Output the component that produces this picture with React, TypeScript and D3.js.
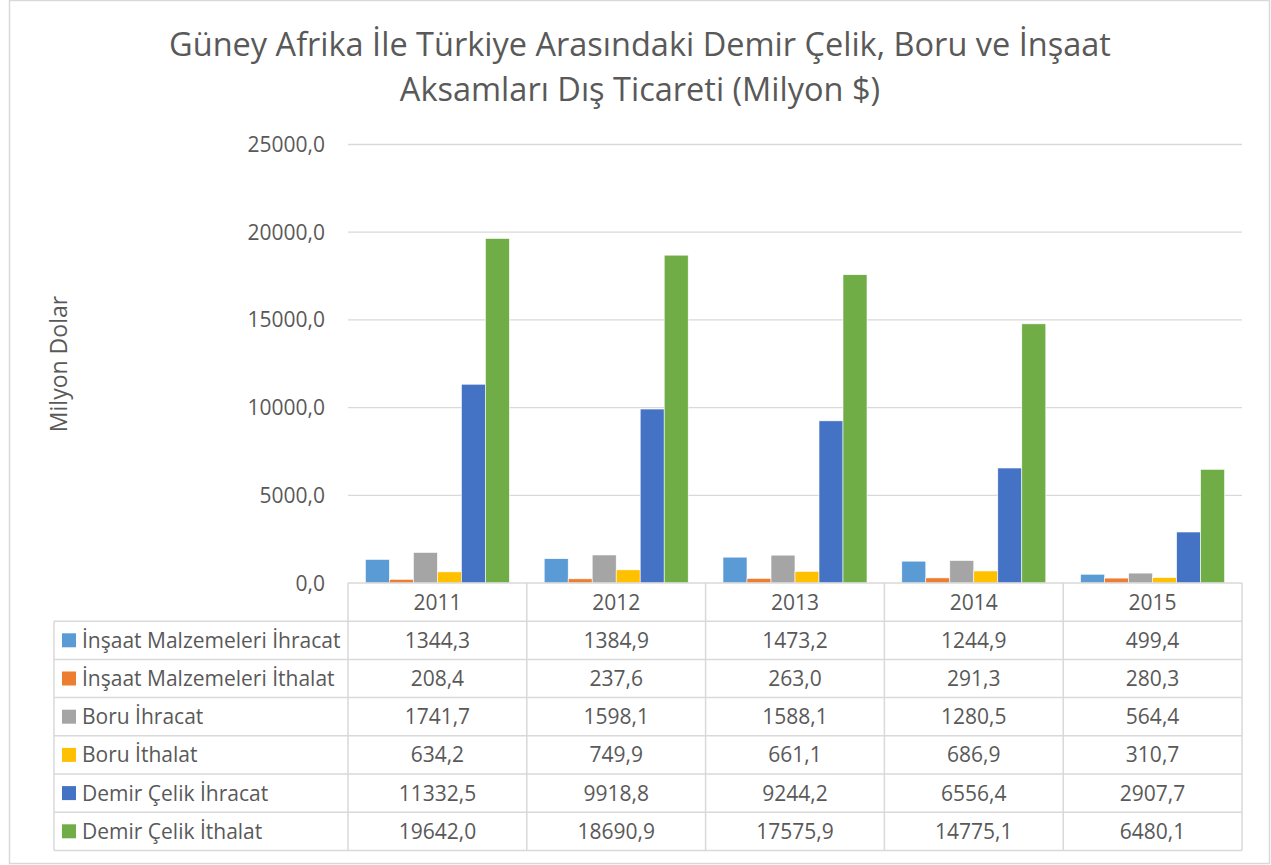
import React from "react";
import * as d3 from "d3";

const years = ["2011", "2012", "2013", "2014", "2015"];
const seriesNames = [
  "İnşaat Malzemeleri İhracat",
  "İnşaat Malzemeleri İthalat",
  "Boru İhracat",
  "Boru İthalat",
  "Demir Çelik İhracat",
  "Demir Çelik İthalat",
];
const insaatIhracat = [1344.3, 1384.9, 1473.2, 1244.9, 499.4];
const insaatIthalat = [208.4, 237.6, 263.0, 291.3, 280.3];
const boruIhracat = [1741.7, 1598.1, 1588.1, 1280.5, 564.4];
const boruIthalat = [634.2, 749.9, 661.1, 686.9, 310.7];
const demirIhracat = [11332.5, 9918.8, 9244.2, 6556.4, 2907.7];
const demirIthalat = [19642.0, 18690.9, 17575.9, 14775.1, 6480.1];
const seriesValues = [insaatIhracat, insaatIthalat, boruIhracat, boruIthalat, demirIhracat, demirIthalat];
const colors = ["#5B9BD5", "#ED7D31", "#A5A5A5", "#FFC000", "#4472C4", "#70AD47"];
const yTicks = [0, 5000, 10000, 15000, 20000, 25000];

const fmt = (v: number) => v.toFixed(1).replace(".", ",");
const FONT = "'Open Sans', sans-serif";
const TXT = "#595959";
const GRID = "#d9d9d9";
const FS = 21;

export default function App() {
  const W = 1271, H = 865;
  const plotL = 348, plotR = 1242, plotT = 144.5, plotB = 583;
  const x = d3.scaleBand<string>().domain(years).range([plotL, plotR]).paddingInner(0).paddingOuter(0);
  const y = d3.scaleLinear().domain([0, 25000]).range([plotB, plotT]);
  const cw = x.bandwidth();
  const barW = cw / (6 + 1.45);
  const gap = (cw - 6 * barW) / 2;
  const xs = d3.scaleBand<number>().domain(d3.range(6)).range([gap, cw - gap]).padding(0);

  const tableL = 54;
  const rowH = 38.2;
  const headerTop = plotB;
  const rowsTop = headerTop + rowH;
  const tableBottom = rowsTop + 6 * rowH;
  const dy = FS * 0.36;

  return (
    <svg width={W} height={H} style={{ display: "block", position: "absolute", left: 0, top: 0 }}>
      <rect x={9.5} y={0.5} width={1260} height={863} fill="#fff" stroke={GRID} strokeWidth={1.5} />
      <text x={640} y={56} textAnchor="middle" fontFamily={FONT} fontSize={32.5} fill={TXT}>
        Güney Afrika İle Türkiye Arasındaki Demir Çelik, Boru ve İnşaat
      </text>
      <text x={640} y={100.5} textAnchor="middle" fontFamily={FONT} fontSize={32.5} fill={TXT}>
        Aksamları Dış Ticareti (Milyon $)
      </text>
      <text transform={`translate(67,364) rotate(-90)`} textAnchor="middle" fontFamily={FONT} fontSize={23} fill={TXT}>
        Milyon Dolar
      </text>
      {yTicks.map((t) => (
        <g key={t}>
          {t > 0 && <line x1={plotL} x2={plotR} y1={y(t)} y2={y(t)} stroke={GRID} strokeWidth={1.3} />}
          <text x={325} y={y(t) + 7.5} textAnchor="end" fontFamily={FONT} fontSize={21} fill={TXT}>
            {fmt(t)}
          </text>
        </g>
      ))}
      {years.map((yr, i) => (
        <g key={yr} transform={`translate(${x(yr)},0)`}>
          {seriesValues.map((vals, s) => (
            <rect key={s} x={xs(s)} width={barW} y={y(vals[i])} height={plotB - y(vals[i])} fill={colors[s]} stroke="#fff" strokeWidth={0.6} />
          ))}
        </g>
      ))}
      <g stroke={GRID} strokeWidth={1.5} fill="none">
        <line x1={plotL} x2={plotR} y1={headerTop} y2={headerTop} />
        {d3.range(7).map((r) => (
          <line key={r} x1={tableL} x2={plotR} y1={rowsTop + r * rowH} y2={rowsTop + r * rowH} />
        ))}
        <line x1={tableL} x2={tableL} y1={rowsTop} y2={tableBottom} />
        {years.map((yr) => (
          <line key={yr} x1={x(yr)} x2={x(yr)} y1={headerTop} y2={tableBottom} />
        ))}
        <line x1={plotR} x2={plotR} y1={headerTop} y2={tableBottom} />
      </g>
      {years.map((yr) => (
        <text key={yr} x={(x(yr) as number) + cw / 2} y={headerTop + rowH / 2 + dy} textAnchor="middle" fontFamily={FONT} fontSize={FS} fill={TXT}>
          {yr}
        </text>
      ))}
      {seriesNames.map((name, s) => (
        <g key={name}>
          <rect x={62} y={rowsTop + s * rowH + rowH / 2 - 7} width={14} height={14} fill={colors[s]} />
          <text x={82} y={rowsTop + s * rowH + rowH / 2 + dy} fontFamily={FONT} fontSize={FS} fill={TXT}>
            {name}
          </text>
          {years.map((yr, i) => (
            <text key={yr} x={(x(yr) as number) + cw / 2} y={rowsTop + s * rowH + rowH / 2 + dy} textAnchor="middle" fontFamily={FONT} fontSize={FS} fill={TXT}>
              {fmt(seriesValues[s][i])}
            </text>
          ))}
        </g>
      ))}
    </svg>
  );
}
